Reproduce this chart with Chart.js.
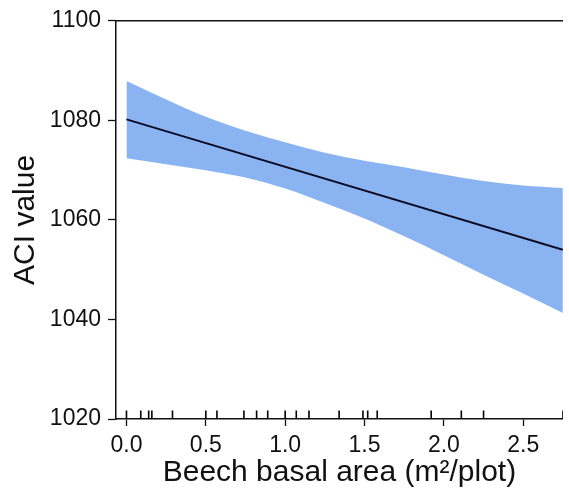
<!DOCTYPE html>
<html>
<head>
<meta charset="utf-8">
<script src="https://cdn.jsdelivr.net/npm/chart.js@4.4.1/dist/chart.umd.min.js"></script>
<style>
    html, body { margin: 0; padding: 0; background: #fff; }
    canvas { display: block; }
</style>
</head>
<body>
<canvas id="ChartCanvas" width="569" height="493"></canvas>
<script>
// Values
const bandX     = [0, 0.25, 0.5, 0.75, 1.0, 1.25, 1.5, 1.75, 2.0, 2.25, 2.5, 2.75];
const bandUpper = [1087.9, 1084.2, 1080.7, 1077.9, 1075.6, 1073.5, 1071.9, 1070.6, 1069.1, 1067.8, 1066.9, 1066.4];
const bandLower = [1072.4, 1071.2, 1070.0, 1068.5, 1066.3, 1063.4, 1060.3, 1056.7, 1052.9, 1049.0, 1045.2, 1041.3];

const fitX = [0, 2.75];
const fitY = [1080.2, 1054.0];

// Rug of observed basal areas along the bottom
const rugX = [0.0, 0.09, 0.14, 0.16, 0.29, 0.5, 0.57, 0.74, 0.82, 0.89, 1.0, 1.07, 1.15,
              1.34, 1.49, 1.52, 1.58, 1.92, 2.11, 2.25, 2.75];
const rugLevel = 1020.8;

const xTicks = [0, 0.5, 1.0, 1.5, 2.0, 2.5];
const yTicks = [1020, 1040, 1060, 1080, 1100];

const toPoints = (xs, ys) => xs.map((x, i) => ({ x: x, y: ys[i] }));

const font = 'Liberation Sans, Arial, sans-serif';
const ink = '#111';

// Chart.js paints dataset 0 last, so the fit line and rug come first to sit on top of the band
new Chart(document.getElementById('ChartCanvas'),
{
    type: 'line',
    data:
    {
        datasets:
        [
            {
                label: 'fit',
                data: toPoints(fitX, fitY),
                borderColor: '#0b0b26',
                borderWidth: 2,
                pointRadius: 0,
                fill: false
            },
            {
                type: 'scatter',
                label: 'rug',
                data: rugX.map(x => ({ x: x, y: rugLevel })),
                pointStyle: 'line',
                rotation: 90,
                radius: 4.5,
                borderWidth: 1.6,
                borderColor: '#000'
            },
            {
                label: 'lower',
                data: toPoints(bandX, bandLower),
                borderWidth: 0,
                borderColor: 'rgba(0,0,0,0)',
                pointRadius: 0,
                cubicInterpolationMode: 'monotone',
                fill: false
            },
            {
                label: 'upper',
                data: toPoints(bandX, bandUpper),
                borderWidth: 0,
                borderColor: 'rgba(0,0,0,0)',
                backgroundColor: 'rgb(138,180,241)',
                pointRadius: 0,
                cubicInterpolationMode: 'monotone',
                fill: '-1'
            }
        ]
    },
    options:
    {
        responsive: false,
        devicePixelRatio: 1,
        animation: false,
        layout: { padding: { top: 16, right: 0, left: 0, bottom: 0 } },
        plugins: { legend: { display: false }, tooltip: { enabled: false } },
        scales:
        {
            x:
            {
                type: 'linear',
                position: 'bottom',
                min: -0.066,
                max: 2.75,
                afterBuildTicks: scale => { scale.ticks = xTicks.map(v => ({ value: v })); },
                afterFit: scale => { scale.height = 74; },
                grid: { drawOnChartArea: false, tickLength: 7, tickColor: ink, tickWidth: 1.3 },
                border: { color: ink, width: 1.5 },
                ticks: {
                    padding: 6,
                    color: ink,
                    font: { family: font, size: 23 },
                    callback: v => v.toFixed(1)
                },
                title: {
                    display: true,
                    text: 'Beech basal area (m\u00b2/plot)',
                    color: ink,
                    font: { family: font, size: 30 },
                    padding: { top: 0, bottom: 2 }
                }
            },
            top:
            {
                type: 'linear',
                position: 'top',
                min: -0.066,
                max: 2.75,
                afterFit: scale => { scale.height = 0; },
                grid: { display: false, drawTicks: false },
                border: { display: true, color: ink, width: 1.5 },
                ticks: { display: false }
            },
            y:
            {
                min: 1020,
                max: 1100,
                afterBuildTicks: scale => { scale.ticks = yTicks.map(v => ({ value: v })); },
                afterFit: scale => { scale.width = 116; },
                grid: { drawOnChartArea: false, tickLength: 8, tickColor: ink, tickWidth: 1.3 },
                border: { color: ink, width: 1.5 },
                ticks: {
                    padding: 7,
                    color: ink,
                    font: { family: font, size: 23 },
                    callback: v => String(v)
                },
                title: {
                    display: true,
                    text: 'ACI value',
                    color: ink,
                    font: { family: font, size: 30 },
                    padding: { top: 8, bottom: 0 }
                }
            }
        }
    }
});
</script>
</body>
</html>
